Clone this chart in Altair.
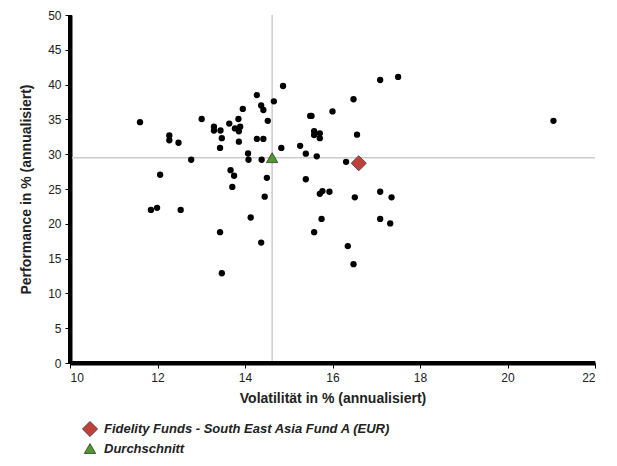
import altair as alt
import pandas as pd

# Fund universe (volatility %, performance %)
vol = [11.6, 12.06, 12.27, 12.27, 12.48, 12.77, 13.01, 13.29, 13.29, 13.44,
       13.47, 13.43, 13.64, 13.77, 13.89, 13.85, 13.86, 13.86, 13.95, 14.07,
       14.08, 14.27, 14.37, 14.42, 14.52, 14.27, 14.42, 14.38, 14.66, 14.87,
       14.83, 15.26, 15.39, 15.49, 15.52, 15.58, 15.58, 15.71, 15.71, 15.64,
       16.0, 13.67, 13.75, 13.71, 14.5, 14.45, 15.39, 15.71, 15.77, 15.93,
       17.09, 17.5, 16.48, 16.56, 21.05, 16.31, 16.51, 17.09, 17.35, 17.09,
       17.32, 16.35, 16.48, 11.85, 11.99, 12.53, 14.13, 13.43, 14.37, 13.47,
       15.75, 15.58]
perf = [34.6, 27.05, 32.7, 32.0, 31.65, 29.2, 35.06, 33.95, 33.4, 33.4,
        32.3, 30.9, 34.4, 33.7, 33.95, 35.06, 33.3, 31.8, 36.5, 30.1,
        29.2, 38.5, 37.0, 36.35, 34.8, 32.2, 32.2, 29.2, 37.6, 39.8,
        30.9, 31.2, 30.07, 35.5, 35.5, 33.3, 32.76, 33.0, 32.3, 29.7,
        36.15, 27.7, 26.9, 25.3, 26.6, 23.9, 26.4, 24.3, 24.7, 24.6,
        40.66, 41.1, 37.9, 32.8, 34.8, 28.9, 23.8, 24.6, 23.8, 20.7,
        20.06, 16.8, 14.2, 22.0, 22.3, 22.0, 20.9, 18.8, 17.3, 12.9,
        20.7, 18.8]

series_names = ["Fidelity Funds - South East Asia Fund A (EUR)", "Durchschnitt"]
series_vol = [16.6, 14.62]
series_perf = [28.7, 29.5]
series_colors = ["#c0403c", "#4f9a2e"]
series_shapes = ["diamond", "triangle-up"]

x_ticks = [10, 12, 14, 16, 18, 20, 22]
y_ticks = [0, 5, 10, 15, 20, 25, 30, 35, 40, 45, 50]

df = pd.DataFrame({"vol": vol, "perf": perf})
sdf = pd.DataFrame({"series": series_names, "vol": series_vol, "perf": series_perf})
avg = sdf[sdf["series"] == "Durchschnitt"]
frame = pd.DataFrame({"x0": [x_ticks[0]], "x1": [x_ticks[-1]],
                      "y0": [y_ticks[0]], "y1": [y_ticks[-1]]})

xs = alt.Scale(domain=[x_ticks[0], x_ticks[-1]], nice=False)
ys = alt.Scale(domain=[y_ticks[0], y_ticks[-1]], nice=False)

xaxis = alt.Axis(values=x_ticks, title="Volatilität in % (annualisiert)", titlePadding=8)
yaxis = alt.Axis(values=y_ticks, title="Performance in % (annualisiert)", titlePadding=14)

W, H = 525, 348

vline = alt.Chart(avg).mark_rule(color="#cccccc", strokeWidth=1.5).encode(
    x=alt.X("vol:Q", scale=xs, axis=xaxis), y=alt.value(0), y2=alt.value(H))
hline = alt.Chart(avg).mark_rule(color="#cccccc", strokeWidth=1.5).encode(
    y=alt.Y("perf:Q", scale=ys, axis=yaxis), x=alt.value(0), x2=alt.value(W))

left_axis = alt.Chart(frame).mark_rule(color="black", strokeWidth=4).encode(
    x=alt.X("x0:Q", scale=xs, axis=xaxis),
    y=alt.Y("y0:Q", scale=ys, axis=yaxis), y2="y1:Q")
bottom_axis = alt.Chart(frame).mark_rule(color="black", strokeWidth=4).encode(
    y=alt.Y("y0:Q", scale=ys, axis=yaxis),
    x=alt.X("x0:Q", scale=xs, axis=xaxis), x2="x1:Q")

dots = alt.Chart(df).mark_circle(color="black", opacity=1, size=40).encode(
    x=alt.X("vol:Q", scale=xs, axis=xaxis),
    y=alt.Y("perf:Q", scale=ys, axis=yaxis))

special = alt.Chart(sdf).mark_point(filled=True, opacity=1,
                                    stroke="#333", strokeWidth=0.8).encode(
    x=alt.X("vol:Q", scale=xs, axis=xaxis),
    y=alt.Y("perf:Q", scale=ys, axis=yaxis),
    color=alt.Color("series:N", scale=alt.Scale(domain=series_names, range=series_colors),
                    legend=alt.Legend(title=None, orient="none", legendX=12, legendY=406,
                                      labelFont="Liberation Sans", labelFontSize=13,
                                      labelFontStyle="italic", labelFontWeight="bold",
                                      labelColor="#222", symbolSize=120,
                                      symbolStrokeColor="#333", symbolStrokeWidth=0.8,
                                      rowPadding=2, labelOffset=6, labelLimit=500)),
    shape=alt.Shape("series:N", scale=alt.Scale(domain=series_names, range=series_shapes)),
    size=alt.Size("series:N", scale=alt.Scale(domain=series_names, range=[230, 130]),
                  legend=None))

chart = alt.layer(vline, hline, left_axis, bottom_axis, dots, special).properties(
    width=W, height=H,
    padding={"left": 62, "top": 7, "right": 14, "bottom": 95},
    autosize=alt.AutoSizeParams(type="none"),
).configure_view(stroke=None).configure_axis(
    grid=False, domainWidth=4, domainColor="black", tickColor="black", tickSize=5,
    tickWidth=1, labelFont="Liberation Sans", labelFontSize=12, labelColor="#222",
    labelPadding=4, titleFont="Liberation Sans", titleFontSize=14,
    titleFontWeight="bold", titleColor="#222")

chart.save("out.html", embed_options={"renderer": "svg", "actions": False})
